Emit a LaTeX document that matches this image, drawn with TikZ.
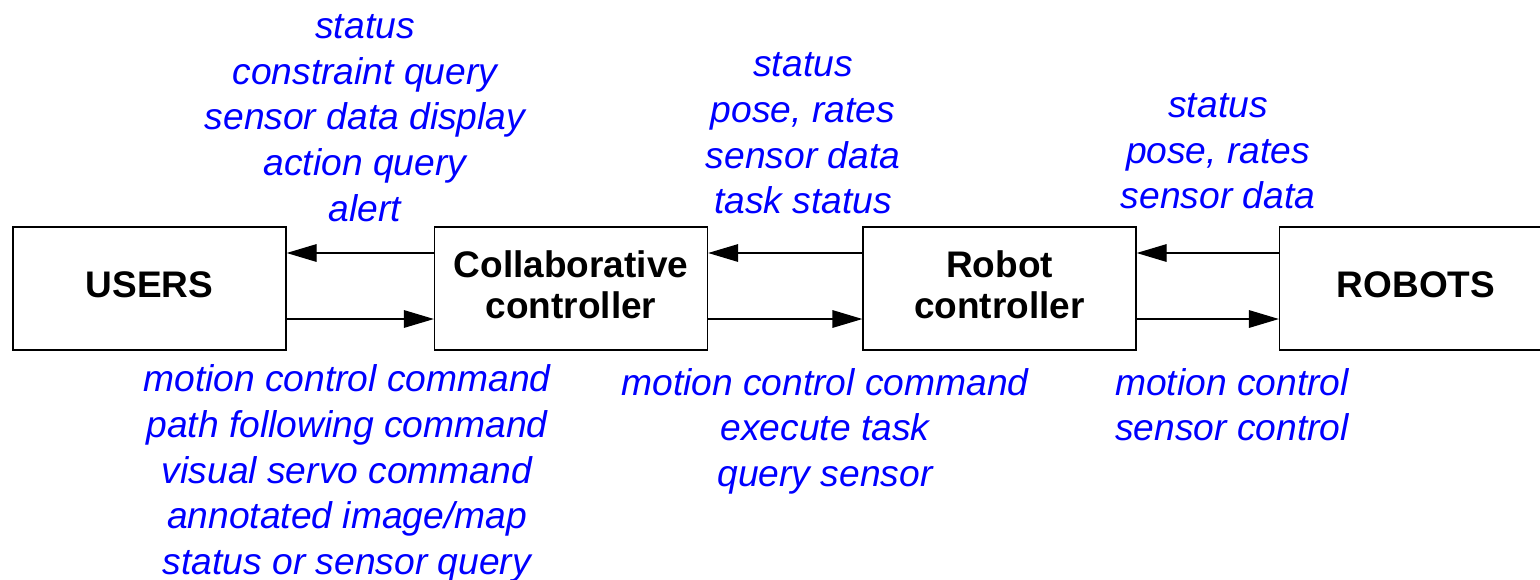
\documentclass[tikz,border=0pt]{standalone}
\usepackage{fontspec}
\setmainfont{Liberation Sans}
\usetikzlibrary{arrows.meta}
\begin{document}
\begin{tikzpicture}[x=0.5pt,y=-0.5pt,
  blk/.style={draw, line width=0.65pt, rectangle, minimum width=136.5pt, minimum height=61.5pt, inner sep=0pt, text depth=3.5pt, align=center, font=\fontsize{18.5}{20.5}\selectfont\bfseries},
  lbl/.style={text=blue, align=center, inner sep=0pt, font=\fontsize{18.6}{22.8}\selectfont\itshape},
  arr/.style={line width=0.65pt, -{Triangle[length=15pt,width=8.8pt]}}]
\useasboundingbox (0,0) rectangle (1540,579);
\clip (0,0) rectangle (1540,579);
\node[blk] (users) at (149.5,288.5) {USERS};
\node[blk] (collab) at (571,288.5) {Collaborative\\controller};
\node[blk] (robctl) at (999.5,288.5) {Robot\\controller};
\node[blk] (robots) at (1416,288.5) {ROBOTS};
\draw[arr] (collab.west |- 0,253) -- (users.east |- 0,253);
\draw[arr] (users.east |- 0,319) -- (collab.west |- 0,319);
\draw[arr] (robctl.west |- 0,253) -- (collab.east |- 0,253);
\draw[arr] (collab.east |- 0,319) -- (robctl.west |- 0,319);
\draw[arr] (robots.west |- 0,253) -- (robctl.east |- 0,253);
\draw[arr] (robctl.east |- 0,319) -- (robots.west |- 0,319);
\node[lbl] (t1) at (365,118) {status\\constraint query\\sensor data display\\action query\\alert};
\node[lbl] (t2) at (803,133.5) {status\\pose, rates\\sensor data\\task status};
\node[lbl] (t3) at (1218,151.5) {status\\pose, rates\\sensor data};
\node[lbl] (b1) at (347,473.5) {motion control command\\path following command\\visual servo command\\annotated image/map\\status or sensor query};
\node[lbl] (b2) at (825,431) {motion control command\\execute task\\query sensor};
\node[lbl] (b3) at (1232,404.5) {motion control\\sensor control};
\end{tikzpicture}
\end{document}
